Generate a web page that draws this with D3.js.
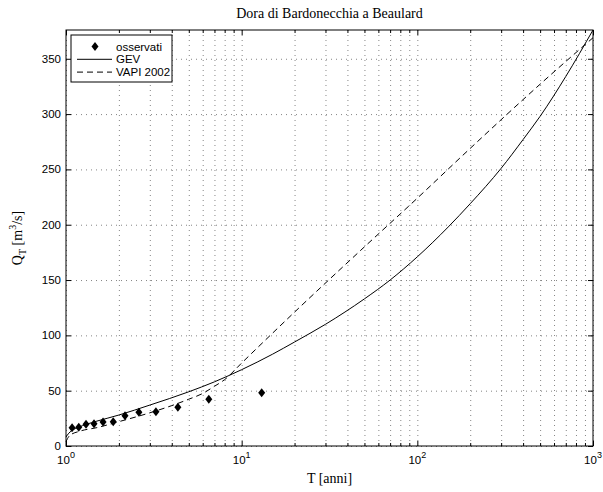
<!DOCTYPE html>
<html>
<head>
<meta charset="utf-8">
<script src="https://d3js.org/d3.v7.min.js"></script>
<style>
  body { margin: 0; background: #fff; }
  svg { display: block; }
  .tick-lbl { font-family: "Liberation Sans", Arial, sans-serif; font-size: 11.5px; }
</style>
</head>
<body>
<div id="visual"></div>
<script>
/* Dora di Bardonecchia a Beaulard - curve di frequenza delle piene */

// osservati (T, Q)
var obsT = [1.083, 1.182, 1.3, 1.444, 1.625, 1.857, 2.167, 2.6, 3.25, 4.333, 6.5, 13];
var obsQ = [16.5, 17, 19.6, 20.2, 21.7, 22, 27.4, 30.5, 31, 35, 42.2, 48.2];

// curva GEV
var gevT = [1, 1.03, 1.08, 1.18, 1.3, 1.5, 2, 3, 5, 7, 10, 15, 20, 30, 50, 70, 100, 150, 200, 300, 400, 500, 700, 1000];
var gevQ = [8, 11, 14, 17, 19.5, 22.5, 28, 37, 49, 58, 69, 83, 94, 110, 133, 150, 171, 198, 219, 251, 277, 298, 334, 376];

// curva VAPI 2002
var vapiT = [1, 1.05, 1.2, 1.5, 2, 3, 4, 5, 6, 7, 8, 10, 20, 50, 100, 200, 500, 1000];
var vapiQ = [4, 9.5, 13.4, 16.6, 22, 30, 36.5, 42.3, 47.5, 54, 60, 75, 121, 180, 224, 269, 327, 369];

var xMajor = [1, 10, 100, 1000];
var yTicks = [0, 50, 100, 150, 200, 250, 300, 350];
var legendLabels = ["osservati", "GEV", "VAPI 2002"];

var W = 603, H = 492;
var margin = {top: 30, right: 10, bottom: 46, left: 66};
var width = 593 - margin.left, height = 446 - margin.top;

var svg = d3.select("#visual").append("svg")
    .attr("width", W)
    .attr("height", H);

var g = svg.append("g")
    .attr("transform", "translate(" + margin.left + "," + margin.top + ")");

var x = d3.scaleLog().domain([1, 1000]).range([0, width]);
var y = d3.scaleLinear().domain([0, 376]).range([height, 0]);

// minor ticks for the log axis
var xMinor = [];
xMajor.slice(0, 3).forEach(function (d) {
    for (var k = 2; k <= 9; k++) xMinor.push(d * k);
});

/* grid (dotted) */
var gridStyle = function (sel) {
    sel.select(".domain").remove();
    sel.selectAll("line")
        .attr("stroke", "#666")
        .attr("stroke-width", 0.8)
        .attr("stroke-dasharray", "1,4");
};

g.append("g")
    .attr("transform", "translate(0," + height + ")")
    .call(d3.axisBottom(x).tickValues(xMajor.concat(xMinor)).tickSize(-height).tickFormat(""))
    .call(gridStyle);

g.append("g")
    .call(d3.axisLeft(y).tickValues(yTicks).tickSize(-width).tickFormat(""))
    .call(gridStyle);

/* curves */
var lineGen = d3.line()
    .x(function (d) { return x(d[0]); })
    .y(function (d) { return y(d[1]); })
    .curve(d3.curveMonotoneX);

g.append("path")
    .datum(gevT.map(function (t, i) { return [t, gevQ[i]]; }))
    .attr("d", lineGen)
    .attr("fill", "none")
    .attr("stroke", "#000")
    .attr("stroke-width", 1);

g.append("path")
    .datum(vapiT.map(function (t, i) { return [t, vapiQ[i]]; }))
    .attr("d", lineGen)
    .attr("fill", "none")
    .attr("stroke", "#000")
    .attr("stroke-width", 1)
    .attr("stroke-dasharray", "6,4");

/* observed points - diamonds */
var diamond = "M0,-4.5L3.5,0L0,4.5L-3.5,0Z";
g.selectAll(".obs")
    .data(obsT.map(function (t, i) { return [t, obsQ[i]]; }))
    .enter().append("path")
    .attr("class", "obs")
    .attr("d", diamond)
    .attr("transform", function (d) {
        return "translate(" + x(d[0]) + "," + y(d[1]) + ")";
    })
    .attr("fill", "#000");

/* box and inward ticks */
var tickStyle = function (sel) {
    sel.select(".domain").remove();
    sel.selectAll("line").attr("stroke", "#000").attr("stroke-width", 1);
};

g.append("g").attr("transform", "translate(0," + height + ")")
    .call(d3.axisBottom(x).tickValues(xMajor).tickSize(-5).tickFormat(""))
    .call(tickStyle);
g.append("g").attr("transform", "translate(0," + height + ")")
    .call(d3.axisBottom(x).tickValues(xMinor).tickSize(-3).tickFormat(""))
    .call(tickStyle);
g.append("g")
    .call(d3.axisTop(x).tickValues(xMajor).tickSize(-5).tickFormat(""))
    .call(tickStyle);
g.append("g")
    .call(d3.axisTop(x).tickValues(xMinor).tickSize(-3).tickFormat(""))
    .call(tickStyle);
g.append("g")
    .call(d3.axisLeft(y).tickValues(yTicks).tickSize(-5).tickFormat(""))
    .call(tickStyle);
g.append("g").attr("transform", "translate(" + width + ",0)")
    .call(d3.axisRight(y).tickValues(yTicks).tickSize(-5).tickFormat(""))
    .call(tickStyle);

g.append("rect")
    .attr("width", width)
    .attr("height", height)
    .attr("fill", "none")
    .attr("stroke", "#000")
    .attr("stroke-width", 1);

/* tick labels */
g.selectAll(".ylbl")
    .data(yTicks)
    .enter().append("text")
    .attr("class", "tick-lbl")
    .attr("x", -5)
    .attr("y", function (d) { return y(d); })
    .attr("dy", "0.35em")
    .attr("text-anchor", "end")
    .text(function (d) { return d; });

var xl = g.selectAll(".xlbl")
    .data(xMajor)
    .enter().append("text")
    .attr("class", "tick-lbl")
    .attr("x", function (d) { return x(d); })
    .attr("y", height + 18)
    .attr("text-anchor", "middle");
xl.append("tspan").text("10");
xl.append("tspan")
    .attr("dy", -6)
    .style("font-size", "9px")
    .text(function (d) { return Math.round(Math.log10(d)); });

/* title and axis labels */
svg.append("text")
    .attr("x", margin.left + width / 2)
    .attr("y", 18)
    .attr("text-anchor", "middle")
    .style("font-family", "'Liberation Serif', 'Times New Roman', serif")
    .style("font-size", "14px")
    .text("Dora di Bardonecchia a Beaulard");

svg.append("text")
    .attr("x", margin.left + width / 2)
    .attr("y", 483)
    .attr("text-anchor", "middle")
    .style("font-family", "'Liberation Serif', 'Times New Roman', serif")
    .style("font-size", "14px")
    .text("T [anni]");

var yl = svg.append("text")
    .attr("transform", "translate(22," + (margin.top + height / 2) + ") rotate(-90)")
    .attr("text-anchor", "middle")
    .style("font-family", "'Liberation Serif', 'Times New Roman', serif")
    .style("font-size", "14px");
yl.append("tspan").text("Q");
yl.append("tspan").attr("dy", 4).style("font-size", "10px").text("T");
yl.append("tspan").attr("dy", -4).text(" [m");
yl.append("tspan").attr("dy", -6).style("font-size", "10px").text("3");
yl.append("tspan").attr("dy", 6).text("/s]");

/* legend */
var leg = svg.append("g").attr("transform", "translate(71,35)");
leg.append("rect")
    .attr("width", 101)
    .attr("height", 47)
    .attr("fill", "#fff")
    .attr("stroke", "#000")
    .attr("stroke-width", 1);

var rows = leg.selectAll(".row")
    .data(legendLabels)
    .enter().append("g")
    .attr("transform", function (d, i) { return "translate(0," + (11.5 + i * 12.8) + ")"; });

rows.append("text")
    .attr("class", "tick-lbl")
    .attr("x", 45)
    .attr("dy", "0.35em")
    .text(function (d) { return d; });

rows.each(function (d, i) {
    var r = d3.select(this);
    if (i === 0) {
        r.append("path").attr("d", diamond).attr("transform", "translate(24,0)").attr("fill", "#000");
    } else {
        r.append("line")
            .attr("x1", 6).attr("x2", 41)
            .attr("stroke", "#000")
            .attr("stroke-width", 1)
            .attr("stroke-dasharray", i === 2 ? "6,4" : null);
    }
});
</script>
</body>
</html>
